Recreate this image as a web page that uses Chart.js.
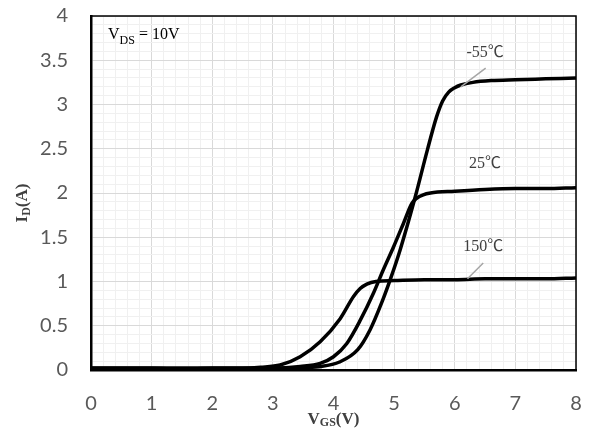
<!DOCTYPE html>
<html>
<head>
<meta charset="utf-8">
<script src="https://cdn.jsdelivr.net/npm/chart.js"></script>
<style>
  html, body { margin: 0; padding: 0; background: #fff; }
</style>
</head>
<body>
<canvas id="transferChart" width="590" height="434"></canvas>
<script>
// transfer curves
const vgsCold = [0, 0.5, 1, 1.5, 2, 2.5, 3, 3.5, 3.8, 4.1, 4.4, 4.6, 4.8, 4.95, 5.1, 5.35, 5.55, 5.7, 5.8, 5.9, 6.0, 6.1, 6.3, 6.6, 7.0, 7.5, 8];
const idCold  = [0.02, 0.02, 0.02, 0.01, 0.02, 0.02, 0.02, 0.03, 0.04, 0.09, 0.23, 0.45, 0.77, 1.05, 1.36, 1.96, 2.49, 2.86, 3.04, 3.14, 3.19, 3.22, 3.25, 3.27, 3.28, 3.29, 3.30];

const vgsRoom = [0, 0.5, 1, 1.5, 2, 2.5, 3, 3.45, 3.78, 4.0, 4.22, 4.44, 4.66, 4.82, 4.99, 5.15, 5.29, 5.37, 5.48, 5.6, 6.0, 6.5, 7.0, 7.5, 8];
const idRoom  = [0.02, 0.02, 0.02, 0.02, 0.02, 0.02, 0.02, 0.04, 0.075, 0.15, 0.30, 0.56, 0.87, 1.13, 1.39, 1.65, 1.88, 1.94, 1.98, 2.0, 2.02, 2.04, 2.05, 2.05, 2.06];

const vgsHot = [0, 0.5, 1, 1.5, 2, 2.5, 2.8, 3.12, 3.45, 3.78, 4.11, 4.33, 4.44, 4.55, 4.7, 5, 5.5, 6, 6.5, 7, 7.5, 8];
const idHot  = [0.02, 0.02, 0.02, 0.02, 0.02, 0.02, 0.03, 0.056, 0.15, 0.32, 0.58, 0.83, 0.92, 0.97, 1.0, 1.01, 1.02, 1.02, 1.03, 1.03, 1.03, 1.04];

const tempLabels = ['-55℃', '25℃', '150℃'];

const toPoints = (xs, ys) => xs.map((x, i) => ({ x: x, y: ys[i] }));
const near = (v, step) => Math.abs(v / step - Math.round(v / step)) < 1e-6;

const serif = '"Liberation Serif", "Times New Roman", "Noto Sans CJK SC", serif';

function drawRich(ctx, parts, x, y, align) {
  let w = 0;
  parts.forEach(p => { ctx.font = p.font; p.w = ctx.measureText(p.t).width; w += p.w; });
  let cx = align === 'center' ? x - w / 2 : x;
  ctx.textAlign = 'left';
  ctx.textBaseline = 'alphabetic';
  parts.forEach(p => { ctx.font = p.font; ctx.fillText(p.t, cx, y + (p.dy || 0)); cx += p.w; });
}

// scales keep their fixed size, no extra padding from tick labels
const fixScale = (w, h) => s => {
  if (w) s.width = w;
  if (h) s.height = h;
  s.paddingTop = 0; s.paddingBottom = 0; s.paddingLeft = 0; s.paddingRight = 0;
};

const decorations = {
  id: 'decorations',
  beforeDatasetsDraw(chart) {
    const { ctx, chartArea: a } = chart;
    ctx.save();
    ctx.strokeStyle = '#000';
    ctx.lineWidth = 1.5;
    ctx.beginPath();
    ctx.moveTo(a.left, a.top);
    ctx.lineTo(a.right, a.top);
    ctx.lineTo(a.right, a.bottom);
    ctx.stroke();
    ctx.restore();
  },
  afterDraw(chart) {
    const { ctx } = chart;
    const xs = chart.scales.x, ys = chart.scales.y;
    const px = v => xs.getPixelForValue(v), py = v => ys.getPixelForValue(v);
    ctx.save();

    // leader lines
    ctx.strokeStyle = '#a6a6a6';
    ctx.lineWidth = 1.5;
    ctx.beginPath();
    ctx.moveTo(px(6.51), py(3.41)); ctx.lineTo(px(6.10), py(3.20));
    ctx.moveTo(px(6.47), py(1.21)); ctx.lineTo(px(6.21), py(1.03));
    ctx.stroke();

    // temperature labels
    ctx.fillStyle = '#404040';
    ctx.font = '16px ' + serif;
    ctx.textAlign = 'center';
    ctx.textBaseline = 'middle';
    ctx.fillText(tempLabels[0], px(6.5), py(3.58));
    ctx.fillText(tempLabels[1], px(6.5), py(2.33));
    ctx.fillText(tempLabels[2], px(6.47), py(1.39));

    // VDS note
    ctx.fillStyle = '#000';
    drawRich(ctx, [
      { t: 'V', font: '16px ' + serif },
      { t: 'DS', font: '12px ' + serif, dy: 5 },
      { t: ' = 10V', font: '16px ' + serif }
    ], 108, 39, 'left');

    // axis titles
    ctx.fillStyle = '#404040';
    drawRich(ctx, [
      { t: 'V', font: 'bold 17px ' + serif },
      { t: 'GS', font: 'bold 12px ' + serif, dy: 2 },
      { t: '(V)', font: 'bold 17px ' + serif }
    ], (chart.chartArea.left + chart.chartArea.right) / 2, 424, 'center');

    ctx.translate(27, 203);
    ctx.rotate(-Math.PI / 2);
    drawRich(ctx, [
      { t: 'I', font: 'bold 17px ' + serif },
      { t: 'D', font: 'bold 12px ' + serif, dy: 3 },
      { t: '(A)', font: 'bold 17px ' + serif }
    ], 0, 0, 'center');

    ctx.restore();
  }
};

const lineStyle = {
  borderColor: '#000',
  borderWidth: 3.5,
  pointRadius: 0,
  fill: false,
  cubicInterpolationMode: 'monotone'
};

new Chart(document.getElementById('transferChart'), {
  type: 'line',
  data: {
    datasets: [
      Object.assign({ label: tempLabels[0], data: toPoints(vgsCold, idCold) }, lineStyle),
      Object.assign({ label: tempLabels[1], data: toPoints(vgsRoom, idRoom) }, lineStyle),
      Object.assign({ label: tempLabels[2], data: toPoints(vgsHot, idHot) }, lineStyle)
    ]
  },
  options: {
    responsive: false,
    animation: false,
    devicePixelRatio: 1,
    layout: { padding: { top: 16, right: 14, left: 0, bottom: 0 } },
    plugins: {
      legend: { display: false },
      tooltip: { enabled: false }
    },
    events: [],
    scales: {
      x: {
        type: 'linear',
        min: 0,
        max: 8,
        afterFit: fixScale(0, 64),
        border: { display: true, color: '#000', width: 2.5 },
        grid: {
          drawTicks: false,
          color: c => near(c.tick.value, 1) ? '#d9d9d9' : '#f0f0f0'
        },
        ticks: {
          stepSize: 0.2,
          autoSkip: false,
          maxRotation: 0,
          padding: 22,
          color: '#595959',
          font: { family: 'Lato', size: 20 },
          callback: v => near(v, 1) ? String(Math.round(v)) : ''
        }
      },
      y: {
        min: 0,
        max: 4,
        afterFit: fixScale(91, 0),
        border: { display: true, color: '#000', width: 2.5 },
        grid: {
          drawTicks: false,
          color: c => near(c.tick.value, 0.5) ? '#d9d9d9' : '#f0f0f0'
        },
        ticks: {
          stepSize: 0.1,
          autoSkip: false,
          padding: 23,
          color: '#595959',
          font: { family: 'Lato', size: 20 },
          callback: v => near(v, 0.5) ? String(Math.round(v * 10) / 10) : ''
        }
      }
    }
  },
  plugins: [decorations]
});
</script>
</body>
</html>
